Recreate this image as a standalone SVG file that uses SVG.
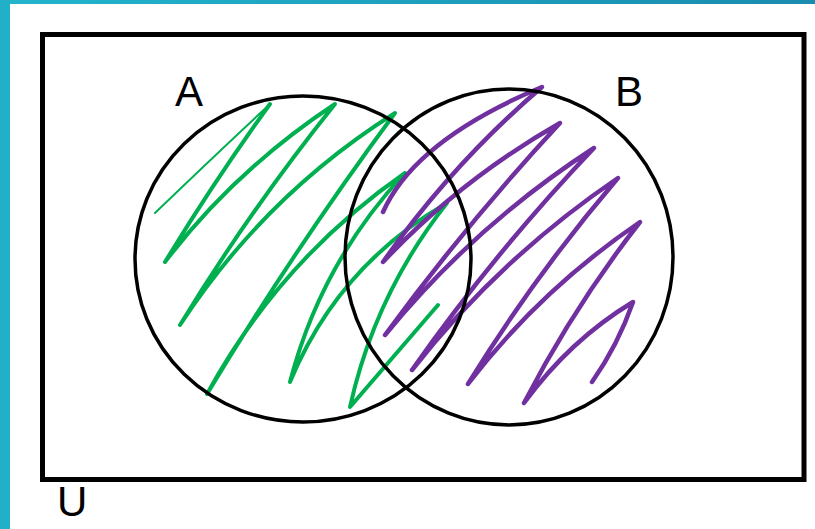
<svg xmlns="http://www.w3.org/2000/svg" width="815" height="529" viewBox="0 0 815 529">
  <defs>
    <linearGradient id="teal" x1="0" y1="0" x2="1" y2="0">
      <stop offset="0" stop-color="#22B5CC"/>
      <stop offset="1" stop-color="#1A8CAE"/>
    </linearGradient>
    <style>
      .frame { fill: none; stroke: #000; stroke-width: 5; }
      .set { fill: none; stroke: #000; stroke-width: 3.5; }
      .lbl { font-family: "Liberation Sans", Arial, sans-serif; font-size: 42px; fill: #000; }
      .green { fill: none; stroke: #00B050; stroke-linecap: round; stroke-linejoin: round; }
      .purple { fill: none; stroke: #7030A0; stroke-width: 4.5; stroke-linecap: round; stroke-linejoin: round; }
    </style>
  </defs>
  <rect x="0" y="0" width="815" height="529" fill="#FFFFFF"/>
  <rect x="0" y="0" width="815" height="4" fill="url(#teal)"/>
  <rect x="0" y="0" width="10" height="529" fill="#22B0C8"/>

  <g id="universe">
    <rect class="frame" x="42.5" y="34.5" width="761.5" height="445"/>
    <text class="lbl" x="57" y="516">U</text>
  </g>

  <g id="shading">
    <path class="green" stroke-width="2" d="M155,213 Q210,160 270,104"/>
    <path class="green" stroke-width="4" d="M270,104 Q215,180 165,262 Q235,170 335,104 Q250,210 180,325 Q265,195 395,113 Q295,248 207,394 Q280,260 405,173 Q321,263 290,382 Q338,266 447,203 Q375,294 350,407 Q392,358 438,305"/>
    <path class="purple" d="M383,212 Q415,140 542,87 Q452,164 383,262 Q460,180 560,123 Q468,222 385,335 Q475,225 594,148 Q495,252 412,370 Q500,258 618,178 Q535,275 468,384 Q540,290 640,222 Q575,305 524,403 Q570,340 633,302 Q618,345 592,382"/>
  </g>

  <g id="setA">
    <ellipse class="set" cx="303" cy="259" rx="168" ry="163"/>
    <text class="lbl" x="175" y="106">A</text>
  </g>

  <g id="setB">
    <ellipse class="set" cx="509" cy="257" rx="164" ry="168"/>
    <text class="lbl" x="615" y="106">B</text>
  </g>
</svg>
